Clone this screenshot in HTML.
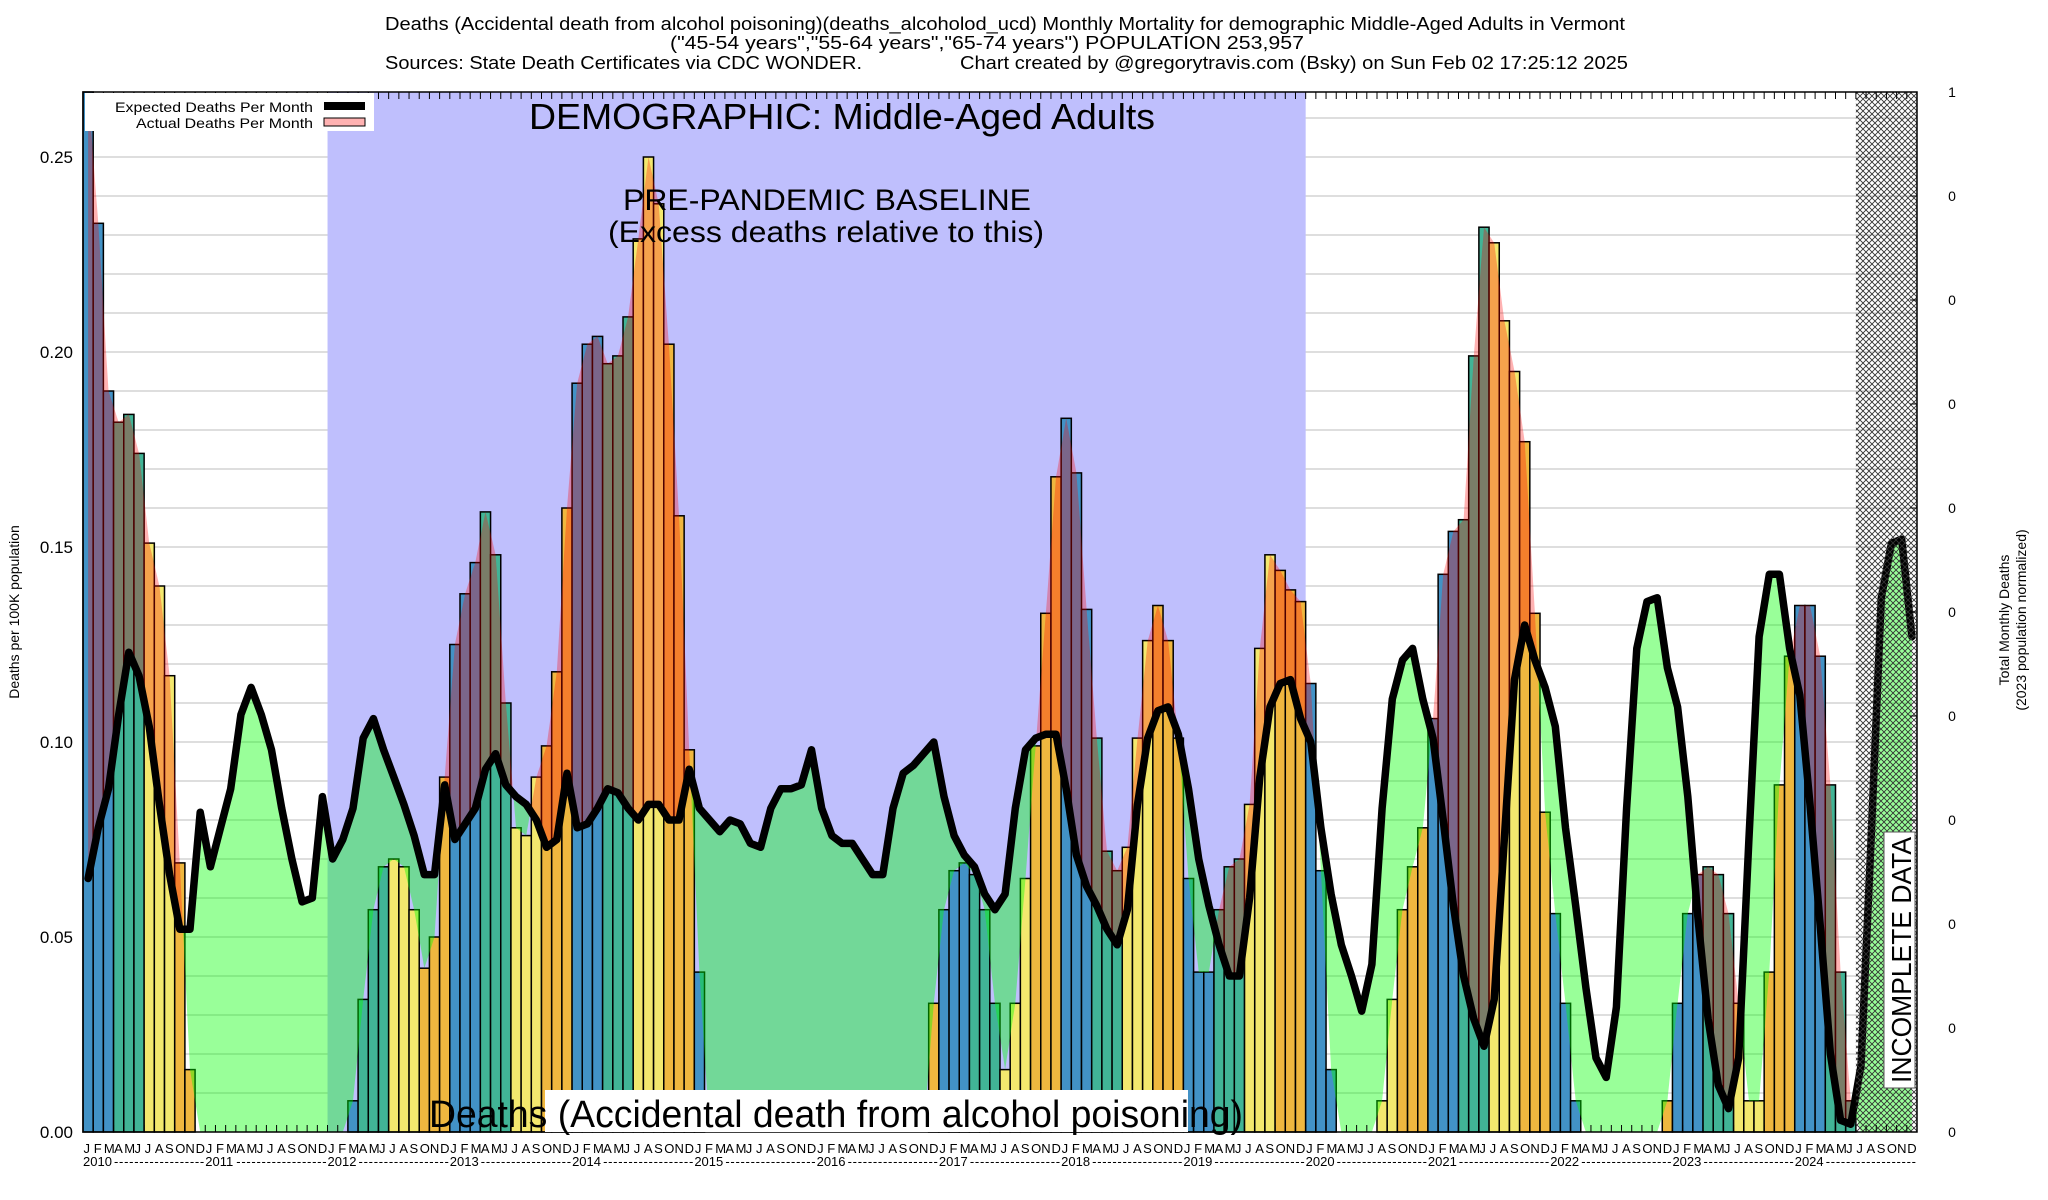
<!DOCTYPE html>
<html><head><meta charset="utf-8"><style>
html,body{margin:0;padding:0;background:#fff;}
svg{display:block;font-family:"Liberation Sans",sans-serif;}
</style></head><body>
<svg id="chart" width="2048" height="1200" viewBox="0 0 2048 1200" xmlns="http://www.w3.org/2000/svg">
<defs>
<pattern id="hatch" width="6" height="6" patternUnits="userSpaceOnUse">
<path d="M0,0 L6,6 M6,0 L0,6" stroke="#333" stroke-width="0.9"/>
</pattern>
</defs>
<rect x="0" y="0" width="2048" height="1200" fill="#fff"/>
<g font-size="18" fill="#000">
<text x="1005" y="30" text-anchor="middle" textLength="1240" lengthAdjust="spacingAndGlyphs">Deaths (Accidental death from alcohol poisoning)(deaths_alcoholod_ucd) Monthly Mortality for demographic Middle-Aged Adults in Vermont</text>
<text x="987" y="49" text-anchor="middle" textLength="634" lengthAdjust="spacingAndGlyphs">("45-54 years","55-64 years","65-74 years") POPULATION 253,957</text>
<text x="385" y="69" textLength="477" lengthAdjust="spacingAndGlyphs">Sources: State Death Certificates via CDC WONDER.</text>
<text x="960" y="69" textLength="668" lengthAdjust="spacingAndGlyphs">Chart created by @gregorytravis.com (Bsky) on Sun Feb 02 17:25:12 2025</text>
</g>
<g id="grid"></g>
<rect id="baseline-region" fill="#bfbffd"/>
<g id="bars"></g>
<g id="fills"></g>
<g id="lines"></g>
<rect id="hatch-rect" fill="url(#hatch)"/>
<g id="axes"></g>
<g>
<text x="842" y="129" text-anchor="middle" font-size="36" textLength="626" lengthAdjust="spacingAndGlyphs">DEMOGRAPHIC: Middle-Aged Adults</text>
<text x="827" y="210" text-anchor="middle" font-size="30" textLength="408" lengthAdjust="spacingAndGlyphs">PRE-PANDEMIC BASELINE</text>
<text x="826" y="242" text-anchor="middle" font-size="30" textLength="436" lengthAdjust="spacingAndGlyphs">(Excess deaths relative to this)</text>
<rect x="545" y="1090" width="643" height="42" fill="#fff"/>
<text x="429" y="1127" font-size="38" textLength="814" lengthAdjust="spacingAndGlyphs">Deaths (Accidental death from alcohol poisoning)</text>
<g transform="translate(1900,960) rotate(-90)">
<rect x="-128" y="-16" width="256" height="31" fill="#fff" stroke="#555" stroke-width="1"/>
<text x="0" y="11" text-anchor="middle" font-size="28" textLength="246" lengthAdjust="spacingAndGlyphs">INCOMPLETE DATA</text>
</g>
</g>
<g>
<rect x="85" y="93" width="289" height="38" fill="#fff"/>
<text x="313" y="112" text-anchor="end" font-size="14" textLength="198" lengthAdjust="spacingAndGlyphs">Expected Deaths Per Month</text>
<rect x="324" y="102" width="41" height="8" fill="#000"/>
<text x="313" y="128" text-anchor="end" font-size="14" textLength="177" lengthAdjust="spacingAndGlyphs">Actual Deaths Per Month</text>
<rect x="324" y="118" width="41" height="8" fill="#ffb2b2" stroke="#000" stroke-width="1"/>
</g>
<text transform="translate(19,612) rotate(-90)" text-anchor="middle" font-size="14">Deaths per 100K population</text>
<text transform="translate(2009,620) rotate(-90)" text-anchor="middle" font-size="14">Total Monthly Deaths</text>
<text transform="translate(2026,620) rotate(-90)" text-anchor="middle" font-size="14">(2023 population normalized)</text>
</svg>
<script>
const startYear = 2010;
const yearLabels = ["2010","2011","2012","2013","2014","2015","2016","2017","2018","2019","2020","2021","2022","2023","2024"];
const monthLetters = ["J","F","M","A","M","J","J","A","S","O","N","D"];
const yTickValues = [0, 0.05, 0.10, 0.15, 0.20, 0.25];
const yTickLabels = ["0.00","0.05","0.10","0.15","0.20","0.25"];
const rightTickLabels = ["1","0","0","0","0","0","0","0","0","0","0"];
const actualDeaths = [
0.267,0.233,0.190,0.182,0.184,0.174,0.151,0.140,0.117,0.069,0.016,0,
0,0,0,0,0,0,0,0,0,0,0,0,
0,0,0.008,0.034,0.057,0.068,0.070,0.068,0.057,0.042,0.050,0.091,
0.125,0.138,0.146,0.159,0.148,0.110,0.078,0.076,0.091,0.099,0.118,0.160,
0.192,0.202,0.204,0.197,0.199,0.209,0.229,0.250,0.238,0.202,0.158,0.098,
0.041,0,0,0,0,0,0,0,0,0,0,0,
0,0,0,0,0,0,0,0,0,0,0,0.033,
0.057,0.067,0.069,0.066,0.057,0.033,0.016,0.033,0.065,0.099,0.133,0.168,
0.183,0.169,0.134,0.101,0.072,0.067,0.073,0.101,0.126,0.135,0.126,0.101,
0.065,0.041,0.041,0.057,0.068,0.070,0.084,0.124,0.148,0.144,0.139,0.136,
0.115,0.067,0.016,0,0,0,0,0.008,0.034,0.057,0.068,0.078,
0.106,0.143,0.154,0.157,0.199,0.232,0.228,0.208,0.195,0.177,0.133,0.082,
0.056,0.033,0.008,0,0,0,0,0,0,0,0,0.008,
0.033,0.056,0.066,0.068,0.066,0.056,0.033,0.008,0.008,0.041,0.089,0.122,
0.135,0.135,0.122,0.089,0.041,0.008];
const expectedDeaths = [
0.065,0.078,0.088,0.107,0.123,0.117,0.104,0.084,0.066,0.052,0.052,0.082,
0.068,0.078,0.088,0.107,0.114,0.107,0.098,0.083,0.070,0.059,0.060,0.086,
0.070,0.075,0.083,0.101,0.106,0.098,0.091,0.084,0.076,0.066,0.066,0.089,
0.075,0.079,0.083,0.093,0.097,0.089,0.086,0.084,0.080,0.073,0.075,0.092,
0.078,0.079,0.083,0.088,0.087,0.083,0.080,0.084,0.084,0.080,0.080,0.093,
0.083,0.080,0.077,0.080,0.079,0.074,0.073,0.083,0.088,0.088,0.089,0.098,
0.083,0.076,0.074,0.074,0.070,0.066,0.066,0.083,0.092,0.094,0.097,0.100,
0.086,0.076,0.071,0.068,0.061,0.057,0.061,0.083,0.098,0.101,0.102,0.102,
0.088,0.071,0.063,0.058,0.052,0.048,0.057,0.084,0.101,0.108,0.109,0.102,
0.088,0.070,0.058,0.048,0.040,0.040,0.060,0.091,0.109,0.115,0.116,0.106,
0.100,0.078,0.061,0.048,0.040,0.031,0.043,0.083,0.111,0.121,0.124,0.111,
0.101,0.080,0.058,0.040,0.029,0.022,0.034,0.075,0.116,0.130,0.121,0.114,
0.104,0.078,0.058,0.037,0.019,0.014,0.032,0.083,0.124,0.136,0.137,0.119,
0.109,0.086,0.055,0.029,0.012,0.006,0.019,0.075,0.127,0.143,0.143,0.124,
0.112,0.084,0.053,0.020,0.003,0.002,0.017,0.075,0.137,0.151,0.152,0.127];
const baselineStartMonth = 24, baselineEndMonth = 120, incompleteStartMonth = 174;

const NS = "http://www.w3.org/2000/svg";
const PL = 83, PR = 1917, PT = 92, PB = 1132;
const nMonths = yearLabels.length * 12;
const MW = (PR - PL) / nMonths;
const xScale = m => PL + m * MW;
const yScale = v => PB - v * 3900;
function mk(tag, attrs, parent) {
  const el = document.createElementNS(NS, tag);
  for (const k in attrs) el.setAttribute(k, attrs[k]);
  parent.appendChild(el);
  return el;
}
const grid = document.getElementById('grid');
for (let v = 0.01; v < 0.266; v += 0.01) {
  const gl = mk('line', {x1: PL, x2: PR, y1: yScale(v), y2: yScale(v), stroke: '#bdbdbd', 'stroke-width': 1}, grid);
  
  
}
const br = document.getElementById('baseline-region');
br.setAttribute('x', xScale(baselineStartMonth)); br.setAttribute('y', PT);
br.setAttribute('width', xScale(baselineEndMonth) - xScale(baselineStartMonth)); br.setAttribute('height', PB - PT);

const colors = ['#4292c6','#4292c6','#4292c6','#41b496','#41b496','#41b496','#f3e86e','#f3e86e','#f3e86e','#efb73f','#efb73f','#efb73f'];
const bars = document.getElementById('bars');
actualDeaths.forEach((v, i) => {
  if (v <= 0) return;
  const top = Math.max(yScale(v), PT);
  const b = mk('rect', {x: xScale(i), y: top, width: MW, height: PB - top, fill: colors[i % 12], stroke: '#000', 'stroke-width': 1.5}, bars);
  
  
});

const aVal = i => (i < actualDeaths.length ? actualDeaths[i] : 0);
const pts = [];
for (let i = 0; i < nMonths - 1; i++) {
  for (let s = 0; s < 10; s++) {
    const t = s / 10;
    const a = aVal(i) + (aVal(i + 1) - aVal(i)) * t;
    const e = expectedDeaths[i] + (expectedDeaths[i + 1] - expectedDeaths[i]) * t;
    pts.push([xScale(i + 0.5 + t), a, e]);
  }
}
pts.push([xScale(nMonths - 0.5), aVal(nMonths - 1), expectedDeaths[nMonths - 1]]);
const fwdR = [], backR = [], fwdG = [], backG = [];
pts.forEach(p => {
  const [x, a, e] = p;
  fwdR.push(x.toFixed(1) + ',' + yScale(Math.max(a, e)).toFixed(1));
  backR.unshift(x.toFixed(1) + ',' + yScale(e).toFixed(1));
  fwdG.push(x.toFixed(1) + ',' + yScale(e).toFixed(1));
  backG.unshift(x.toFixed(1) + ',' + yScale(Math.min(a, e)).toFixed(1));
});
const fills = document.getElementById('fills');
const gf = mk('polygon', {points: fwdG.concat(backG).join(' '), fill: 'rgb(0,255,0)', 'fill-opacity': 0.4}, fills);


const rf = mk('polygon', {points: fwdR.concat(backR).join(' '), fill: 'rgb(255,0,0)', 'fill-opacity': 0.3}, fills);



const lines = document.getElementById('lines');
const lp = expectedDeaths.map((v, i) => xScale(i + 0.5).toFixed(1) + ',' + yScale(v).toFixed(1)).join(' ');
const line = mk('polyline', {points: lp, fill: 'none', stroke: '#000', 'stroke-width': 7.5, 'stroke-linejoin': 'round', 'stroke-linecap': 'round'}, lines);



const hr = document.getElementById('hatch-rect');
hr.setAttribute('x', xScale(incompleteStartMonth)); hr.setAttribute('y', PT);
hr.setAttribute('width', PR - xScale(incompleteStartMonth)); hr.setAttribute('height', PB - PT);

const axes = document.getElementById('axes');
const frame = mk('rect', {x: PL, y: PT, width: PR - PL, height: PB - PT, fill: 'none', stroke: '#000', 'stroke-width': 1.5}, axes);


for (let m = 1; m < nMonths; m++) {
  const t1 = mk('line', {x1: xScale(m), x2: xScale(m), y1: PT, y2: PT + 7, stroke: '#000', 'stroke-width': 1}, axes);
  
  
  const t2 = mk('line', {x1: xScale(m), x2: xScale(m), y1: PB, y2: PB - 7, stroke: '#000', 'stroke-width': 1}, axes);
  
  
}
for (let m = 0; m < nMonths; m++) {
  const ml = mk('text', {x: xScale(m) + 0.5, y: 1153, 'font-size': 13}, axes);
  ml.textContent = monthLetters[m % 12];
  
  
}
yearLabels.forEach((yl, k) => {
  const x0 = xScale(k * 12);
  const t = mk('text', {x: x0, y: 1166, 'font-size': 13}, axes);
  t.textContent = yl;
  
  
  const d = mk('text', {x: x0 + 31, y: 1166, 'font-size': 13, textLength: 12 * MW - 32, lengthAdjust: 'spacing'}, axes);
  d.textContent = '------------------';
  
  
});
yTickValues.forEach((v, i) => {
  const t = mk('text', {x: 73, y: yScale(v) + 6, 'text-anchor': 'end', 'font-size': 17}, axes);
  t.textContent = yTickLabels[i];
  
  
});
rightTickLabels.forEach((lab, i) => {
  const y = PT + i * (PB - PT) / (rightTickLabels.length - 1);
  const tk = mk('line', {x1: PR, x2: PR - 7, y1: y, y2: y, stroke: '#000', 'stroke-width': 1}, axes);
  
  
  const t = mk('text', {x: 1952, y: y + 5, 'text-anchor': 'middle', 'font-size': 14}, axes);
  t.textContent = lab;
  
  
});
</script>
</body></html>
